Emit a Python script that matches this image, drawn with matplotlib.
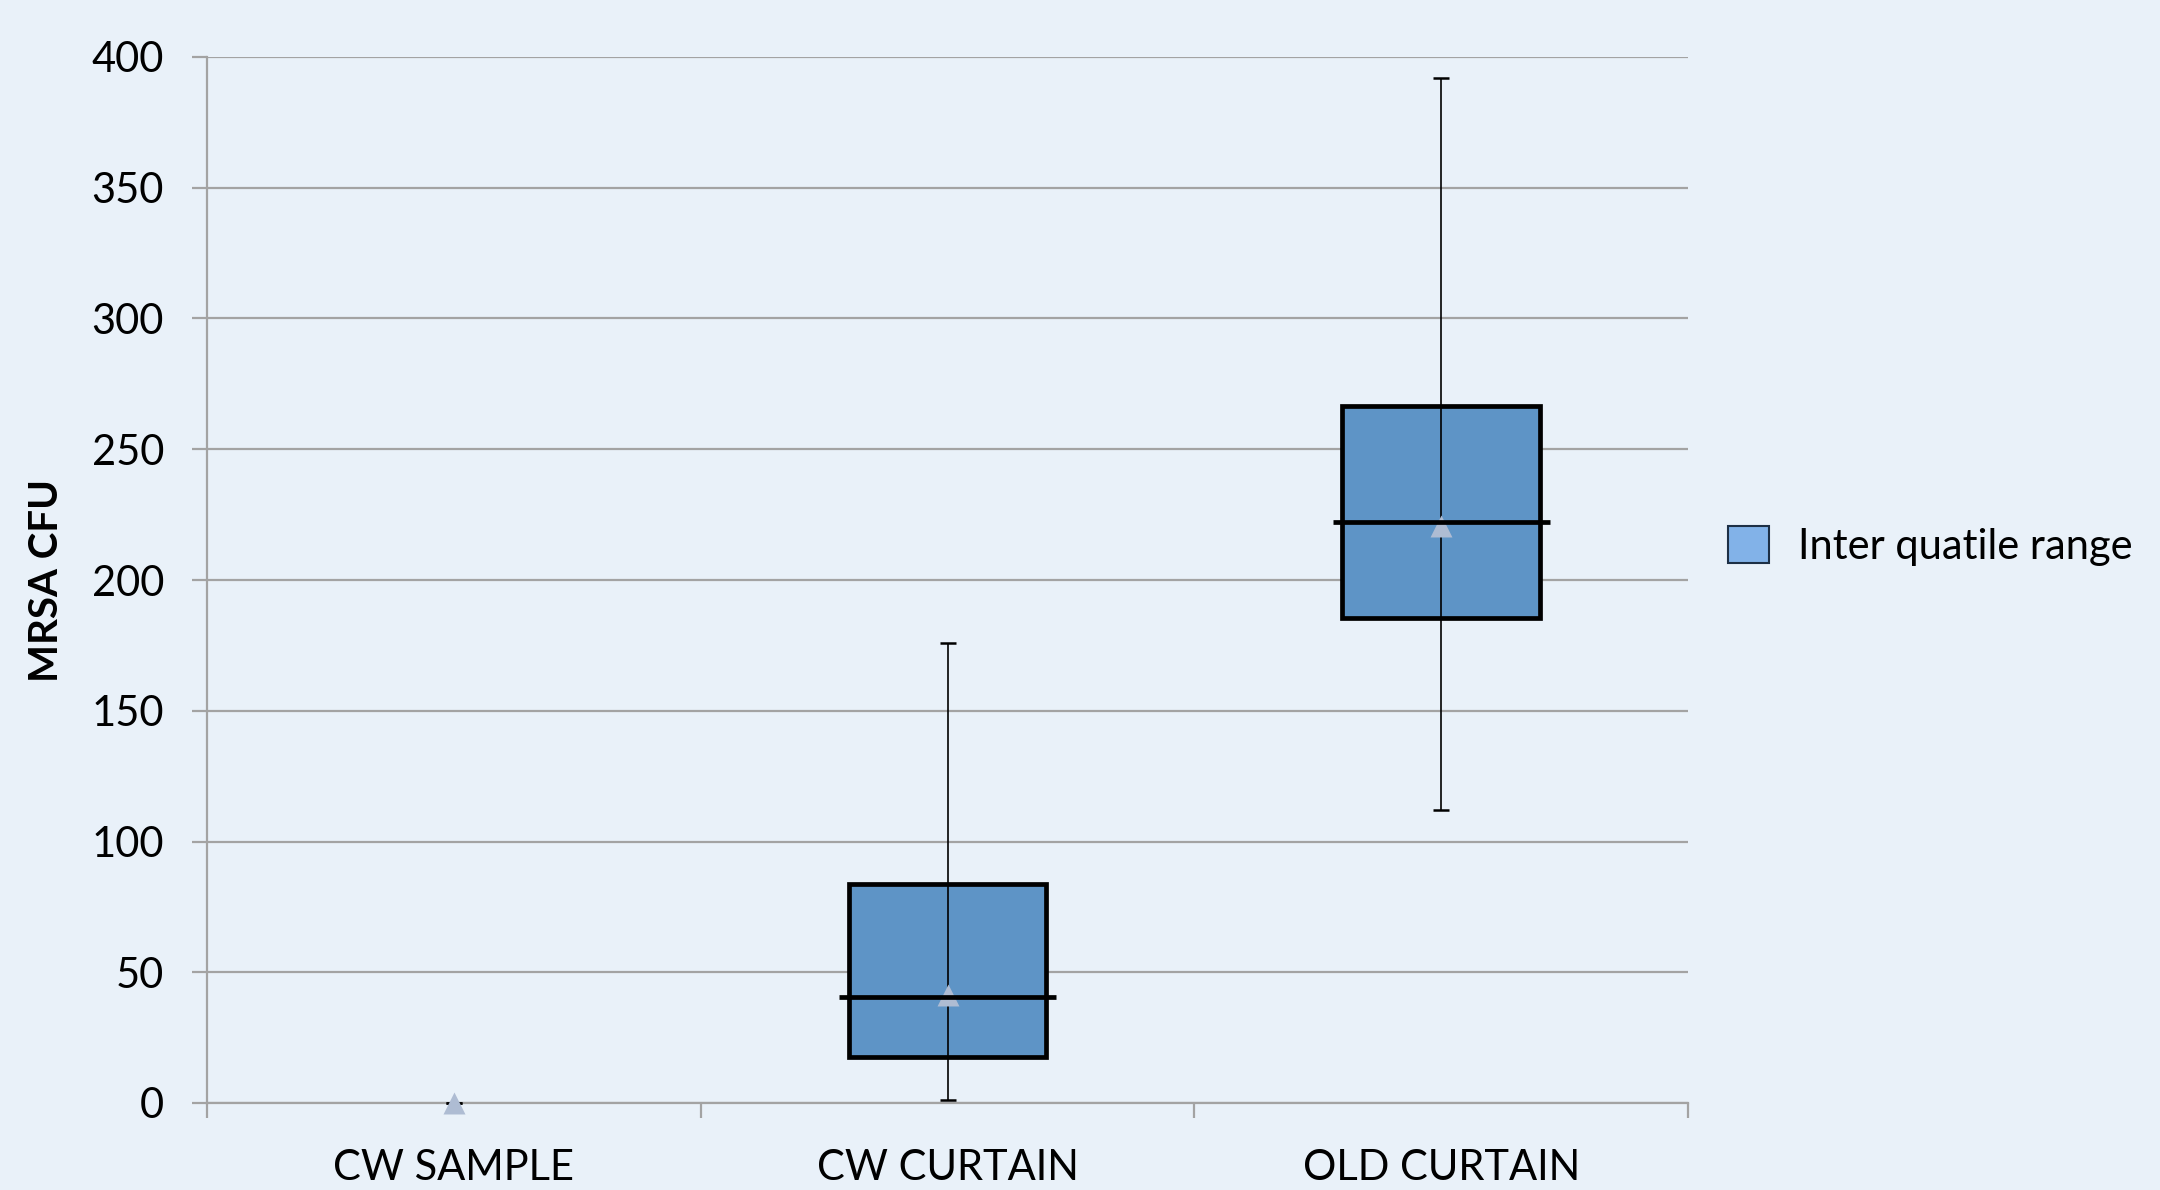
import matplotlib.pyplot as plt
from matplotlib.patches import Patch

# Datos (MRSA CFU)
categorias = ['CW SAMPLE', 'CW CURTAIN', 'OLD CURTAIN']
q1 = [0, 17.6, 185.5]
mediana = [0, 40.5, 222.2]
q3 = [0, 83.7, 266.5]
bigote_min = [0, 1, 112]
bigote_max = [0, 176, 392]
media = [0, 41.3, 220.5]

plt.rcParams['font.family'] = ['Lato', 'DejaVu Sans']

fig = plt.figure(figsize=(21.6, 11.9), dpi=100)
fig.patch.set_facecolor('#e9f1f9')
ax = fig.add_axes([207 / 2160, 87 / 1190, 1481 / 2160, 1046 / 1190])
ax.set_facecolor('none')

x = [i + 0.5 for i in range(len(categorias))]

# Cajas (rango intercuartil); sin borde si la caja no tiene altura
alturas = [a - b for a, b in zip(q3, q1)]
bordes = [3.4 if h > 0 else 0 for h in alturas]
ax.bar(x, alturas, bottom=q1, width=0.40, color='#5e94c6',
       edgecolor='black', linewidth=bordes, zorder=2)

# Bigotes
err_bajo = [m - lo for m, lo in zip(mediana, bigote_min)]
err_alto = [hi - m for m, hi in zip(mediana, bigote_max)]
eb = ax.errorbar(x, mediana, yerr=[err_bajo, err_alto], fmt='none',
                 ecolor='black', elinewidth=1.2, capsize=6, capthick=1.8, zorder=3)
for cap in eb.lines[1]:
    cap.set_clip_on(False)

# Medias
ax.scatter(x, media, marker='^', s=250, color='#aebcd3', zorder=4,
           linewidths=0, clip_on=False)

# Medianas
for xi, m, qa, qb in zip(x, mediana, q1, q3):
    if qb - qa > 0:
        ax.hlines(m, xi - 0.22, xi + 0.22, colors='black', linewidth=3.4, zorder=5)

ax.set_xlim(0, 3)
ax.set_ylim(0, 400)
ax.set_yticks(range(0, 401, 50))
ax.grid(axis='y', color='#a3a3a3', linewidth=1.6, zorder=0)
ax.set_axisbelow(True)

ax.set_xticks([0, 1, 2, 3])
ax.set_xticklabels([])
ax.set_xticks(x, minor=True)
ax.set_xticklabels(categorias, minor=True)
ax.tick_params(axis='x', which='major', length=11, width=1.6, color='#a3a3a3')
ax.tick_params(axis='x', which='minor', length=0, pad=33, labelsize=30)
ax.tick_params(axis='y', length=11, width=1.6, color='#a3a3a3', pad=20, labelsize=30)

for lado in ['top', 'right']:
    ax.spines[lado].set_visible(False)
for lado in ['left', 'bottom']:
    ax.spines[lado].set_color('#a3a3a3')
    ax.spines[lado].set_linewidth(1.6)

ax.set_ylabel('MRSA CFU', fontsize=29, fontweight='bold')
ax.yaxis.set_label_coords(-0.096, 0.5)

fig.legend(handles=[Patch(facecolor='#82b2e8', edgecolor='#1d2f45', linewidth=1.5,
                          label='Inter quatile range')],
           loc='center left', bbox_to_anchor=(1690 / 2160, 1 - 546 / 1190),
           frameon=False, fontsize=30, handlelength=1.0, handleheight=1.0,
           handletextpad=0.7)

fig.savefig('out.png', dpi=100, facecolor=fig.get_facecolor())
